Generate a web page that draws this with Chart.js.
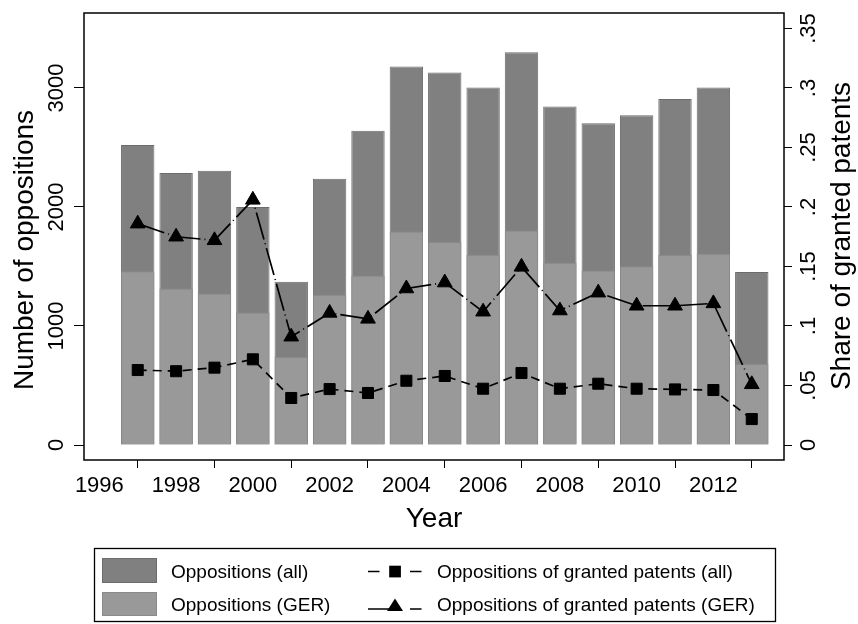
<!DOCTYPE html>
<html><head><meta charset="utf-8">
<script src="https://cdn.jsdelivr.net/npm/chart.js@4/dist/chart.umd.min.js"></script>
<style>html,body{margin:0;padding:0;background:#fff}#wrap{width:858px;height:624px;position:relative}</style>
</head><body><div id="wrap"><canvas id="c" width="858" height="624"></canvas></div>
<script>
const years = [1997,1998,1999,2000,2001,2002,2003,2004,2005,2006,2007,2008,2009,2010,2011,2012,2013];
const oppAll = [2520,2285,2305,2000,1372,2238,2640,3180,3130,3003,3300,2845,2703,2770,2908,3003,1454];
const oppGER = [1459,1316,1274,1114,739,1263,1425,1795,1706,1599,1803,1532,1467,1501,1597,1608,683];
const shareAll = [0.063,0.062,0.065,0.072,0.0395,0.047,0.0437,0.054,0.058,0.0473,0.0605,0.0473,0.0515,0.0473,0.0467,0.0462,0.0218];
const shareGER = [0.186,0.175,0.172,0.206,0.091,0.111,0.106,0.1315,0.1365,0.112,0.1497,0.113,0.128,0.117,0.117,0.119,0.051];
const xTicks = [1996,1998,2000,2002,2004,2006,2008,2010,2012];
const leftTicks = [0,1000,2000,3000];
const rightTicks = [0,0.05,0.1,0.15,0.2,0.25,0.3,0.35];
const rightTickLabels = ['0','.05','.1','.15','.2','.25','.3','.35'];
const seriesLabels = ['Oppositions (all)','Oppositions (GER)','Oppositions of granted patents (all)','Oppositions of granted patents (GER)'];
const xTitle = 'Year';
const yTitle = 'Number of oppositions';
const y2Title = 'Share of granted patents';

const FONT = '"Liberation Sans", Arial, Helvetica, sans-serif';
const DARK = '#808080', DARK_EDGE = '#6c6c6c', LIGHT = '#999999', LIGHT_EDGE = '#8a8a8a';

const pts = arr => years.map((x,i)=>({x:x, y:arr[i]}));

const decor = {
  id:'decor',
  afterDraw(chart){
    const ctx = chart.ctx, a = chart.chartArea;
    const sx = chart.scales.x, sy = chart.scales.y, sy2 = chart.scales.y2;
    ctx.save();
    ctx.strokeStyle = '#000'; ctx.lineWidth = 1.5;
    ctx.strokeRect(a.left, a.top, a.right - a.left, a.bottom - a.top);
    ctx.fillStyle = '#000';
    ctx.font = '22px ' + FONT; ctx.textAlign = 'center'; ctx.textBaseline = 'alphabetic';
    xTicks.forEach(v => ctx.fillText(String(v), sx.getPixelForValue(v), 492));
    ctx.font = '28px ' + FONT;
    ctx.fillText(xTitle, (a.left + a.right)/2, 527);
    ctx.font = '22px ' + FONT;
    leftTicks.forEach(v => {
      ctx.save(); ctx.translate(63, sy.getPixelForValue(v)); ctx.rotate(-Math.PI/2);
      ctx.fillText(String(v), 0, 0); ctx.restore();
    });
    rightTicks.forEach((v,i) => {
      ctx.save(); ctx.translate(815, sy2.getPixelForValue(v)); ctx.rotate(-Math.PI/2);
      ctx.fillText(rightTickLabels[i], 0, 0); ctx.restore();
    });
    ctx.font = '28px ' + FONT;
    ctx.save(); ctx.translate(33, 250); ctx.rotate(-Math.PI/2); ctx.fillText(yTitle, 0, 0); ctx.restore();
    ctx.save(); ctx.translate(850, 236); ctx.rotate(-Math.PI/2); ctx.fillText(y2Title, 0, 0); ctx.restore();

    ctx.lineWidth = 1.3; ctx.strokeStyle = '#000';
    ctx.strokeRect(94.5, 548.5, 681, 73);
    ctx.fillStyle = DARK; ctx.fillRect(102, 558, 55, 25);
    ctx.strokeStyle = DARK_EDGE; ctx.lineWidth = 1; ctx.strokeRect(102.5, 558.5, 54, 24);
    ctx.fillStyle = LIGHT; ctx.fillRect(102, 592, 55, 24);
    ctx.strokeStyle = LIGHT_EDGE; ctx.strokeRect(102.5, 592.5, 54, 23);
    ctx.fillStyle = '#000'; ctx.font = '19px ' + FONT; ctx.textAlign = 'left';
    ctx.fillText(seriesLabels[0], 171, 578);
    ctx.fillText(seriesLabels[1], 171, 611);
    ctx.fillText(seriesLabels[2], 437, 578);
    ctx.fillText(seriesLabels[3], 437, 611);
    ctx.strokeStyle = '#000'; ctx.lineWidth = 1.6;
    ctx.beginPath();
    ctx.moveTo(368, 571.5); ctx.lineTo(379.5, 571.5);
    ctx.moveTo(410, 571.5); ctx.lineTo(421.5, 571.5);
    ctx.stroke();
    ctx.fillRect(389.2, 565.7, 11.7, 11.7);
    ctx.beginPath();
    ctx.moveTo(368, 609); ctx.lineTo(395, 609);
    ctx.moveTo(410, 609); ctx.lineTo(421.5, 609);
    ctx.stroke();
    ctx.beginPath();
    ctx.moveTo(395, 598.5); ctx.lineTo(403, 611); ctx.lineTo(387, 611); ctx.closePath(); ctx.fill();
    ctx.restore();
  }
};

const tickGrid = (len) => ({display:true, drawOnChartArea:false, drawTicks:true, tickLength:len, color:'#000', lineWidth:1});

new Chart(document.getElementById('c'), {
  type:'bar',
  data:{
    datasets:[
      {type:'line', label:seriesLabels[2], data:pts(shareAll), yAxisID:'y2', xAxisID:'x',
       borderColor:'#000', borderWidth:1.7, borderDash:[9,6], pointStyle:'rect', pointRadius:7.8,
       pointBackgroundColor:'#000', pointBorderColor:'#000', pointBorderWidth:1, fill:false, tension:0, order:0},
      {type:'line', label:seriesLabels[3], data:pts(shareGER), yAxisID:'y2', xAxisID:'x',
       borderColor:'#000', borderWidth:1.7, borderDash:[28,4,1,4], pointStyle:'triangle', pointRadius:8.5,
       pointBackgroundColor:'#000', pointBorderColor:'#000', pointBorderWidth:1, fill:false, tension:0, order:0},
      {type:'bar', label:seriesLabels[1], data:pts(oppGER), yAxisID:'y', xAxisID:'x',
       backgroundColor:LIGHT, borderColor:LIGHT_EDGE, borderWidth:1, order:1,
       grouped:false, categoryPercentage:1, barPercentage:0.87},
      {type:'bar', label:seriesLabels[0], data:pts(oppAll), yAxisID:'y', xAxisID:'x',
       backgroundColor:DARK, borderColor:DARK_EDGE, borderWidth:1, order:2,
       grouped:false, categoryPercentage:1, barPercentage:0.87}
    ]
  },
  options:{
    responsive:false, animation:false, devicePixelRatio:1,
    layout:{padding:{top:13, left:0, right:0, bottom:0}},
    plugins:{legend:{display:false}, tooltip:{enabled:false}},
    scales:{
      x:{type:'linear', position:'bottom', min:1995.6, max:2013.84, offset:false,
         afterBuildTicks:s=>{s.ticks = xTicks.map(v=>({value:v}));},
         afterFit:s=>{s.height = 164;},
         grid:tickGrid(8), border:{display:false}, ticks:{display:false}},
      y:{type:'linear', position:'left', min:-126, max:3630,
         afterBuildTicks:s=>{s.ticks = leftTicks.map(v=>({value:v}));},
         afterFit:s=>{s.width = 84;},
         grid:tickGrid(10), border:{display:false}, ticks:{display:false}},
      y2:{type:'linear', position:'right', min:-0.0126, max:0.363,
         afterBuildTicks:s=>{s.ticks = rightTicks.map(v=>({value:v}));},
         afterFit:s=>{s.width = 74;},
         grid:tickGrid(8), border:{display:false}, ticks:{display:false}}
    }
  },
  plugins:[decor]
});
</script></body></html>
